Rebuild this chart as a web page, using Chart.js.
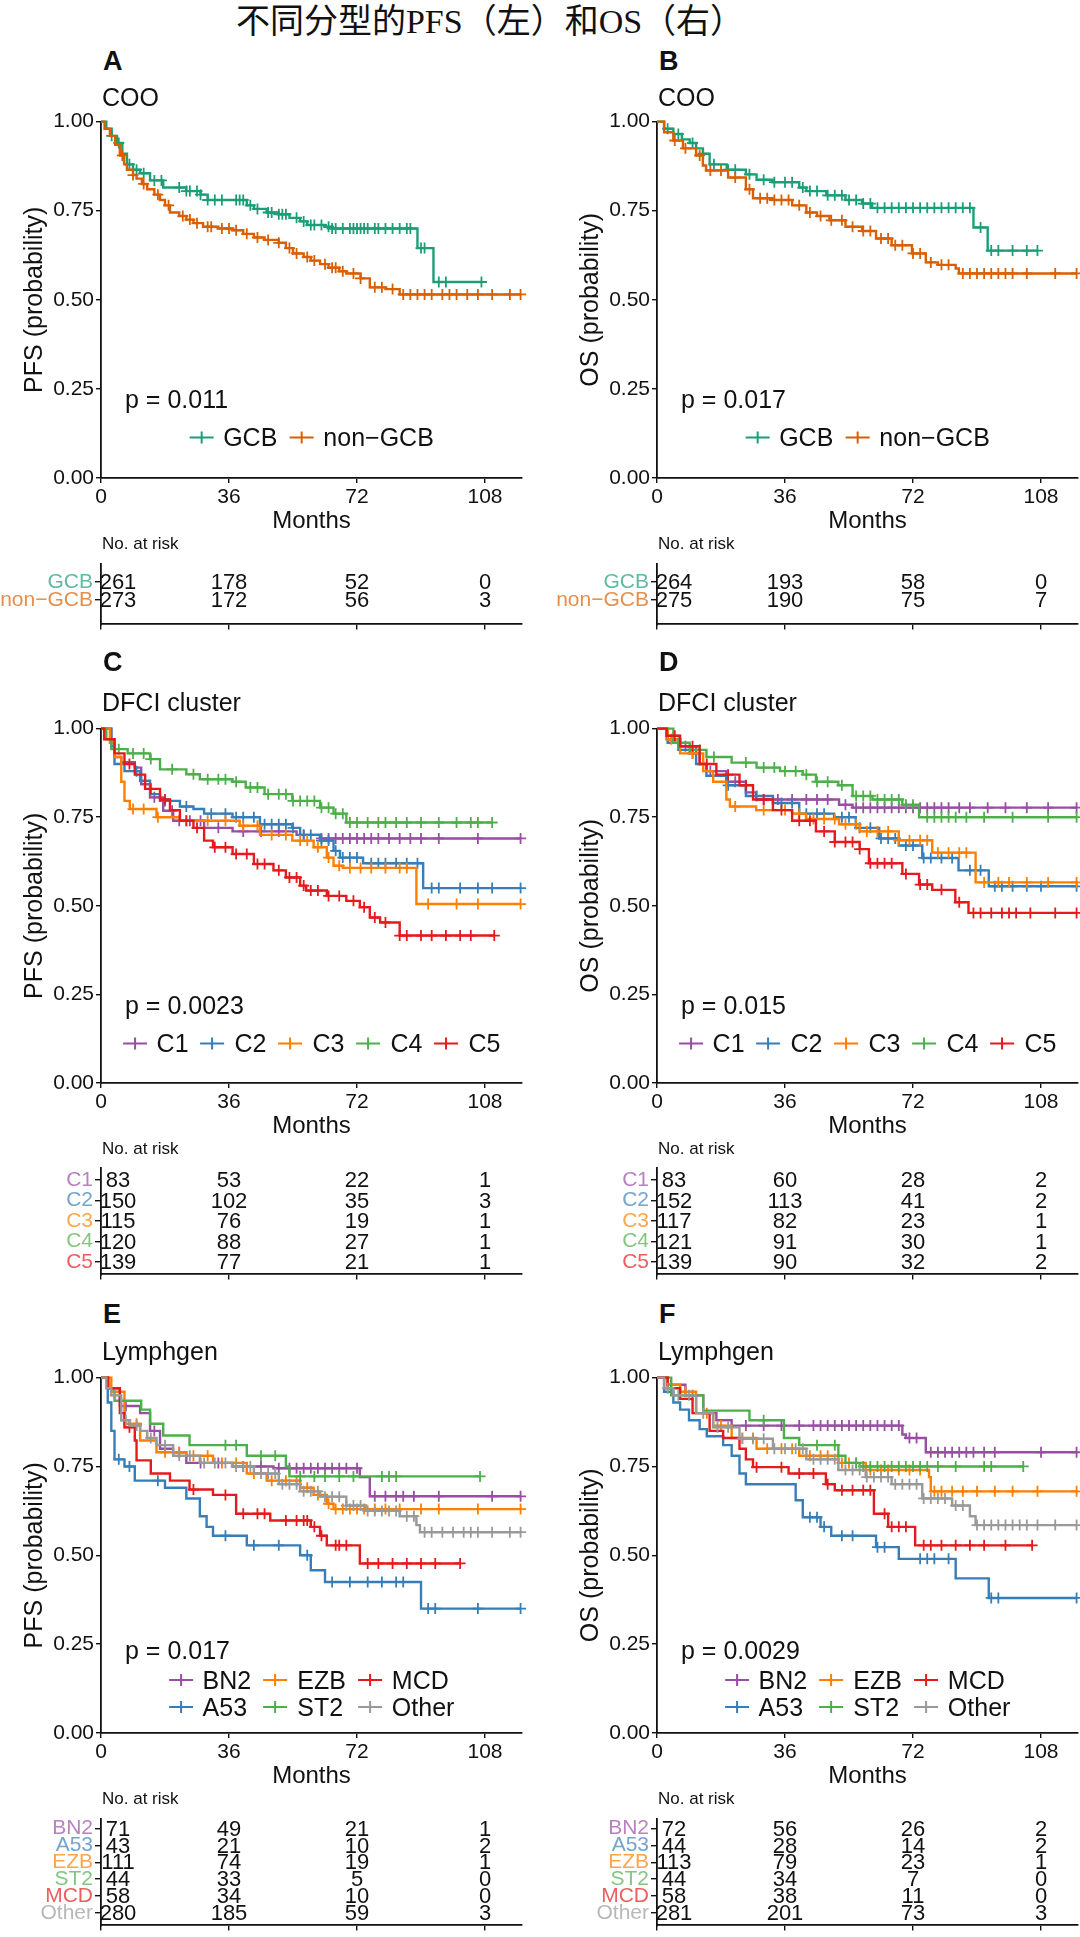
<!DOCTYPE html>
<html>
<head>
<meta charset="utf-8">
<script src="https://cdn.jsdelivr.net/npm/chart.js@4.4.1/dist/chart.umd.min.js"></script>
<style>
html,body{margin:0;padding:0;background:#fff}
#page{position:relative;width:1080px;height:1937px;overflow:hidden;font-family:"Liberation Sans",Arial,sans-serif;color:#111}
#page canvas{position:absolute}
.t{position:absolute;line-height:1;white-space:nowrap;transform:translateY(-50%)}
.title{font-family:"Liberation Serif","Noto Sans CJK SC",serif;font-size:34px;transform:translate(-50%,-50%)}
.letter{font-weight:bold;font-size:27px}
.sub{font-size:25px}
.pval{font-size:25px}
.head{font-size:17px}
.leg{position:absolute;display:grid;grid-auto-flow:column;column-gap:12px;align-items:center;font-size:25px;transform:translate(-50%,-50%)}
.leg .item{display:flex;align-items:center;white-space:nowrap;line-height:1}
.ico{position:relative;display:inline-block;width:24px;height:12px;margin-right:10px}
.ico::before{content:"";position:absolute;left:0;right:0;top:5px;height:2.4px;background:currentColor}
.ico::after{content:"";position:absolute;left:11px;width:2px;top:0;height:12px;background:currentColor}
</style>
</head>
<body>
<div id="page"></div>
<script>
// ---------- data ----------
const TIME_BREAKS = [0, 36, 72, 108];
const Y_TICKS = [0, 0.25, 0.5, 0.75, 1];
const X_MAX = 118.4;

const cooGroups = ['GCB', 'non\u2212GCB'];
const dfciGroups = ['C1', 'C2', 'C3', 'C4', 'C5'];
const lymphGroups = ['BN2', 'A53', 'EZB', 'ST2', 'MCD', 'Other'];

const cooColors = ['#1B9E77', '#D95F02'];
const dfciColors = ['#984EA3', '#377EB8', '#FF7F00', '#4DAF4A', '#E41A1C'];
const lymphColors = ['#984EA3', '#377EB8', '#FF7F00', '#4DAF4A', '#E41A1C', '#999999'];

const pValues = ['p = 0.011', 'p = 0.017', 'p = 0.0023', 'p = 0.015', 'p = 0.017', 'p = 0.0029'];

// A: PFS by COO  (steps: [month, survival]; cens: censoring months)
const pfsGCB = [[0,1],[1.5,0.98],[3,0.96],[4.5,0.94],[6,0.91],[7.3,0.88],[9,0.865],[11,0.855],[13.8,0.835],[17.5,0.815],[24,0.805],[28,0.795],[30,0.78],[41,0.765],[43,0.755],[46.6,0.745],[50,0.74],[53,0.73],[56,0.72],[58,0.71],[63,0.705],[65,0.70],[89,0.645],[93.5,0.55]];
const pfsGCBcens = [3,5,8,10,12,15,17,22,24,25,27,28,30,32,34,38,39,40,42,44,47,48,50,51,52,55,57,59,60,62,64,65,66,68,70,71,72,73,74,75,77,78,80,82,84,86,87,90,91,95,97,107];
const pfsNonGCB = [[0,1],[1,0.98],[2.5,0.96],[4,0.935],[5.3,0.905],[6.5,0.88],[7.3,0.865],[9,0.85],[10,0.84],[11.5,0.825],[13,0.81],[15,0.795],[16.6,0.78],[18,0.765],[19.4,0.745],[22,0.735],[24,0.725],[26,0.715],[28.7,0.705],[33,0.70],[37,0.695],[40,0.685],[43,0.675],[46,0.668],[50,0.66],[52,0.645],[54,0.63],[57,0.62],[59,0.61],[61.6,0.60],[64,0.59],[67,0.58],[69,0.574],[73,0.56],[75.6,0.535],[80,0.53],[84,0.515]];
const pfsNonGCBcens = [6,9,12,16,19,23,25,27,30,31,34,36,38,41,44,47,50,53,55,58,60,63,65,66,68,71,73,77,79,82,85,87,89,91,93,96,98,100,103,106,110,115,118];

// B: OS by COO
const osGCB = [[0,1],[2,0.98],[4.6,0.965],[7,0.95],[9.2,0.94],[11,0.925],[12.9,0.91],[14.8,0.88],[19.6,0.865],[25,0.852],[28,0.837],[32.5,0.83],[40,0.815],[42,0.805],[47.6,0.793],[53,0.78],[57.7,0.77],[60.5,0.758],[89,0.703],[93,0.638]];
const osGCBcens = [3,6,10,13,16,20,22,26,30,33,36,38,41,43,45,48,50,52,54,56,58,60,62,64,66,68,70,72,74,76,78,80,82,84,86,88,91,94,96,100,104,107];
const osNonGCB = [[0,1],[2,0.97],[4.6,0.947],[7.3,0.925],[11,0.905],[12.9,0.877],[13.8,0.863],[20,0.843],[25,0.81],[27,0.785],[32.5,0.78],[38,0.765],[42,0.745],[45,0.735],[48.5,0.723],[53,0.705],[57.7,0.693],[61.6,0.672],[66,0.653],[71.7,0.63],[75.6,0.605],[79,0.598],[84,0.588],[84.9,0.574]];
const osNonGCBcens = [5,8,12,15,18,22,26,29,31,33,35,37,40,43,46,49,52,55,58,60,63,65,67,69,72,74,77,80,82,86,88,90,92,94,96,98,100,104,112,118];

// C: PFS by DFCI cluster
const pfsC1 = [[0,1],[2.9,0.97],[3.8,0.92],[5.7,0.905],[9.5,0.89],[11.3,0.843],[13.8,0.806],[17.5,0.768],[20.3,0.74],[29,0.72],[37,0.71],[55,0.70],[61.6,0.69]];
const pfsC1cens = [15,20,22,25,28,33,40,45,50,57,62,64,66,68,70,72,74,76,78,81,84,87,90,95,106,118];
const pfsC2 = [[0,1],[2.9,0.95],[3.8,0.90],[6.6,0.88],[11,0.853],[13.8,0.815],[16.6,0.796],[22.2,0.78],[26,0.773],[29,0.76],[37,0.75],[44.7,0.73],[53.8,0.72],[56,0.70],[61.6,0.684],[65.4,0.655],[67.2,0.636],[73.7,0.62],[90.6,0.55]];
const pfsC2cens = [10,18,24,31,35,38,40,43,46,48,50,52,54,57,59,62,64,66,68,70,72,76,78,80,83,86,89,93,95,101,106,110,118];
const pfsC3 = [[0,1],[2.5,0.96],[3.8,0.92],[5.7,0.85],[6.6,0.796],[8.1,0.773],[15.6,0.75],[22.2,0.74],[39,0.726],[44.7,0.70],[53.8,0.684],[59.8,0.665],[63.5,0.636],[65.4,0.613],[68,0.607],[88.7,0.505]];
const pfsC3cens = [9,12,16,24,30,35,40,44,48,52,56,58,61,64,67,70,73,76,80,84,86,92,100,106,118];
const pfsC4 = [[0,1],[1.5,0.97],[2.9,0.942],[7.5,0.93],[13.8,0.914],[16.6,0.885],[24,0.871],[27.8,0.857],[37,0.85],[40.7,0.834],[46,0.815],[53.8,0.796],[61.6,0.777],[65.4,0.76],[69,0.735]];
const pfsC4cens = [5,9,12,14,20,26,30,33,35,38,42,44,47,50,52,54,56,58,60,62,64,66,68,70,72,75,78,80,83,86,90,95,100,104,106,110];
const pfsC5 = [[0,1],[0.9,0.97],[3.8,0.93],[6.6,0.90],[9.5,0.87],[12.4,0.83],[16.6,0.80],[19.4,0.77],[22.2,0.74],[26,0.72],[29,0.684],[31.5,0.665],[37,0.646],[43,0.618],[48.5,0.60],[52,0.58],[56,0.557],[57.7,0.543],[63.5,0.528],[69,0.514],[72.8,0.496],[75.6,0.467],[78.5,0.453],[84,0.416]];
const pfsC5cens = [8,14,18,24,27,32,35,38,41,44,46,50,53,55,57,59,61,64,67,71,74,77,80,84,86,90,93,97,101,104,110.6];

// D: OS by DFCI cluster
const osC1 = [[0,1],[2.7,0.97],[6.5,0.95],[11,0.93],[12,0.90],[13.9,0.88],[19.5,0.85],[25,0.82],[27.9,0.80],[51.2,0.785],[55,0.777]];
const osC1cens = [8,15,22,30,34,38,42,45,48,53,56,58,60,62,64,66,68,70,72,74,76,78,80,82,85,88,93,98,104,110,118];
const osC2 = [[0,1],[3,0.96],[6,0.94],[9.2,0.93],[11,0.90],[13.9,0.867],[19.5,0.84],[25,0.81],[32.6,0.79],[40,0.76],[49.8,0.75],[55.9,0.72],[62.5,0.69],[68,0.67],[74.6,0.635],[84.8,0.60],[93.3,0.555]];
const osC2cens = [10,20,28,35,38,42,45,47,52,54,57,60,63,65,67,70,72,75,77,80,83,88,91,95,97,100,104,108,118];
const osC3 = [[0,1],[3,0.97],[6.5,0.93],[13,0.88],[15.8,0.85],[19.5,0.80],[20.5,0.78],[27.9,0.77],[38,0.76],[41.9,0.745],[51.2,0.73],[57,0.71],[68,0.685],[77.4,0.65],[89.6,0.566]];
const osC3cens = [4,10,22,30,36,40,44,47,50,53,56,59,62,65,68,71,74,76,79,82,85,87,92,96,99,104,110,118];
const osC4 = [[0,1],[4.6,0.96],[9.2,0.94],[13.9,0.92],[21,0.904],[28,0.89],[34.6,0.88],[41,0.87],[44.7,0.85],[51,0.84],[55,0.81],[60.6,0.80],[69,0.785],[73.7,0.75]];
const osC4cens = [6,12,16,25,30,33,36,39,42,45,48,52,56,58,60,62,64,66,68,70,72,76,78,80,82,84,87,92,100,110,118];
const osC5 = [[0,1],[2.7,0.98],[6.5,0.95],[12,0.90],[16.7,0.87],[23.2,0.84],[27,0.80],[32.6,0.77],[38,0.74],[44.7,0.71],[50,0.68],[57,0.66],[59.6,0.62],[69,0.59],[73.7,0.56],[77.4,0.545],[83.9,0.51],[87.6,0.48]];
const osC5cens = [5,10,14,20,25,30,35,40,43,47,50,53,55,57,60,62,64,66,70,74,76,80,85,89,91,94,97,99,101,105,112,118];

// E: PFS by Lymphgen
const pfsBN2 = [[0,1],[2,0.97],[5.3,0.92],[11,0.90],[13.8,0.85],[16.6,0.80],[20.3,0.79],[24,0.76],[37,0.75],[48.5,0.745],[72.8,0.72],[75.6,0.666]];
const pfsBN2cens = [7,15,22,28,33,40,45,50,53,55,57,59,61,63,65,67,69,72,77,80,83,85,88,95,110,118];
const pfsA53 = [[0,1],[1.9,0.93],[2.9,0.85],[3.8,0.77],[6.6,0.75],[9.5,0.71],[18,0.69],[24,0.66],[27.8,0.61],[29.7,0.58],[31.5,0.555],[41,0.528],[56,0.50],[59,0.458],[63,0.425],[90,0.35]];
const pfsA53cens = [5,8,16,35,43,50,58,65,70,75,79,83,85,92,94,106,118];
const pfsEZB = [[0,1],[2.9,0.96],[6.6,0.87],[11,0.823],[15.6,0.79],[24,0.78],[31.5,0.76],[41,0.73],[46.6,0.71],[56,0.69],[59.8,0.67],[63.5,0.645],[65.4,0.63]];
const pfsEZBcens = [10,18,22,26,30,34,38,43,48,52,55,58,61,64,66,68,70,72,74,77,80,84,90,95,106,118];
const pfsST2 = [[0,1],[2,0.97],[3.8,0.935],[11.3,0.91],[13.8,0.87],[17.5,0.837],[24.9,0.81],[41,0.78],[52,0.75],[53,0.722]];
const pfsST2cens = [35,38,45,49,56,60,63,67,71,79,81,83,106.6];
const pfsMCD = [[0,1],[2,0.97],[5.3,0.90],[6.6,0.86],[9.5,0.823],[10,0.767],[14,0.73],[19.4,0.71],[24.9,0.685],[31.5,0.67],[38,0.617],[47.6,0.598],[59,0.58],[61.6,0.555],[63.5,0.528],[72.8,0.477]];
const pfsMCDcens = [8,26,35,40,44,46,52,55,57,58,60,62,66,67,69,75,78,82,86,90,94,101];
const pfsOther = [[0,1],[1.5,0.97],[2.9,0.95],[5.7,0.88],[8,0.865],[11,0.85],[13,0.83],[15.6,0.81],[20.3,0.78],[27.8,0.76],[37,0.75],[43,0.73],[50,0.70],[56,0.68],[61.6,0.665],[69,0.64],[74.6,0.625],[84,0.61],[88.7,0.585],[89.7,0.565]];
const pfsOthercens = [4,7,10,14,18,22,25,29,32,35,38,40,42,45,47,49,51,53,55,57,59,61,63,65,67,69,71,73,75,77,79,81,83,86,88,91,93,96,99,102,104,106,110,115,118];

// F: OS by Lymphgen
const osBN2 = [[0,1],[3,0.98],[8,0.95],[13,0.90],[16.7,0.88],[21,0.865],[69,0.84],[70,0.83],[75.6,0.79]];
const osBN2cens = [10,25,30,35,40,44,46,48,50,52,54,56,58,60,62,64,66,68,71,73,77,79,81,83,85,87,89,92,95,108,118];
const osA53 = [[0,1],[2,0.96],[4.6,0.93],[6.5,0.91],[9,0.88],[12,0.855],[14,0.835],[18.6,0.81],[21,0.78],[23.2,0.73],[25,0.70],[39,0.655],[41,0.607],[46,0.58],[49,0.555],[61.6,0.523],[68,0.49],[84,0.435],[93.3,0.38]];
const osA53cens = [43,45,47,52,55,62,64,74,76,78,82,94,96,118];
const osEZB = [[0,1],[3,0.98],[6.5,0.96],[11,0.90],[15.8,0.865],[21,0.83],[28,0.80],[40,0.78],[51,0.76],[58.7,0.74],[76.5,0.72],[77,0.68]];
const osEZBcens = [8,14,18,24,27,31,35,38,43,46,48,52,54,56,60,63,65,68,71,74,78,80,83,86,90,95,100,107,118];
const osST2 = [[0,1],[4,0.95],[13,0.907],[26,0.88],[35.7,0.83],[40,0.81],[51,0.78],[53,0.76],[57,0.75]];
const osST2cens = [30,45,50,56,58,60,62,64,66,68,70,72,74,76,79,84,92,94,103];
const osMCD = [[0,1],[3,0.97],[6.5,0.94],[10,0.90],[14.8,0.85],[18.6,0.83],[23.2,0.80],[25,0.77],[27,0.748],[37,0.73],[47.5,0.70],[50,0.683],[61,0.617],[65,0.58],[72.6,0.528]];
const osMCDcens = [28,35,40,44,48,52,55,58,60,64,66,68,70,75,77,80,84,88,92,98,105.5];
const osOther = [[0,1],[2,0.97],[4.6,0.95],[11,0.90],[15.8,0.86],[23.2,0.828],[32.6,0.80],[42,0.77],[51,0.74],[58.7,0.72],[66,0.70],[74.6,0.66],[83,0.64],[88,0.61],[89.6,0.585]];
const osOthercens = [3,6,9,13,17,20,24,27,30,33,36,39,41,44,46,48,50,53,55,57,59,61,63,65,67,69,71,73,75,77,79,81,84,86,90,92,94,96,98,100,102,104,107,112,118];

// numbers at risk at 0, 36, 72, 108 months
const pfsCooRisk = [[261,178,52,0],[273,172,56,3]];
const osCooRisk = [[264,193,58,0],[275,190,75,7]];
const pfsDfciRisk = [[83,53,22,1],[150,102,35,3],[115,76,19,1],[120,88,27,1],[139,77,21,1]];
const osDfciRisk = [[83,60,28,2],[152,113,41,2],[117,82,23,1],[121,91,30,1],[139,90,32,2]];
const pfsLymphRisk = [[71,49,21,1],[43,21,10,2],[111,74,19,1],[44,33,5,0],[58,34,10,0],[280,185,59,3]];
const osLymphRisk = [[72,56,26,2],[44,28,14,2],[113,79,23,1],[44,34,7,0],[58,38,11,0],[281,201,73,3]];

// ---------- layout ----------
const colX = [101, 657];
const PLOT_W = 421;
const rowLayout = [
  {plotTop:121, plotBot:478, letterY:61, subY:96.5, pY:399, legY:437, legRows:1, headY:543, tabTop:563, tabBot:625, padT:1.05, padB:1.4},
  {plotTop:728, plotBot:1083, letterY:662, subY:702, pY:1005, legY:1043, legRows:1, headY:1148, tabTop:1167, tabBot:1275, padT:0.6, padB:0.6},
  {plotTop:1377, plotBot:1733, letterY:1314, subY:1351, pY:1650, legY:1693.5, legRows:2, headY:1798, tabTop:1818, tabBot:1926, padT:0.6, padB:0.75}
];

const panels = [
  {letter:'A', sub:'COO', yTitle:'PFS (probability)', col:0, row:0, groups:cooGroups, colors:cooColors,
   curves:[pfsGCB,pfsNonGCB], cens:[pfsGCBcens,pfsNonGCBcens], risk:pfsCooRisk, p:pValues[0]},
  {letter:'B', sub:'COO', yTitle:'OS (probability)', col:1, row:0, groups:cooGroups, colors:cooColors,
   curves:[osGCB,osNonGCB], cens:[osGCBcens,osNonGCBcens], risk:osCooRisk, p:pValues[1]},
  {letter:'C', sub:'DFCI cluster', yTitle:'PFS (probability)', col:0, row:1, groups:dfciGroups, colors:dfciColors,
   curves:[pfsC1,pfsC2,pfsC3,pfsC4,pfsC5], cens:[pfsC1cens,pfsC2cens,pfsC3cens,pfsC4cens,pfsC5cens], risk:pfsDfciRisk, p:pValues[2]},
  {letter:'D', sub:'DFCI cluster', yTitle:'OS (probability)', col:1, row:1, groups:dfciGroups, colors:dfciColors,
   curves:[osC1,osC2,osC3,osC4,osC5], cens:[osC1cens,osC2cens,osC3cens,osC4cens,osC5cens], risk:osDfciRisk, p:pValues[3]},
  {letter:'E', sub:'Lymphgen', yTitle:'PFS (probability)', col:0, row:2, groups:lymphGroups, colors:lymphColors,
   curves:[pfsBN2,pfsA53,pfsEZB,pfsST2,pfsMCD,pfsOther], cens:[pfsBN2cens,pfsA53cens,pfsEZBcens,pfsST2cens,pfsMCDcens,pfsOthercens], risk:pfsLymphRisk, p:pValues[4]},
  {letter:'F', sub:'Lymphgen', yTitle:'OS (probability)', col:1, row:2, groups:lymphGroups, colors:lymphColors,
   curves:[osBN2,osA53,osEZB,osST2,osMCD,osOther], cens:[osBN2cens,osA53cens,osEZBcens,osST2cens,osMCDcens,osOthercens], risk:osLymphRisk, p:pValues[5]}
];

Chart.defaults.font.family = '"Liberation Sans", Arial, sans-serif';
Chart.defaults.color = '#111';

const page = document.getElementById('page');

function addText(cls, txt, x, y){
  const d = document.createElement('div');
  d.className = 't ' + cls;
  d.textContent = txt;
  d.style.left = x + 'px';
  d.style.top = y + 'px';
  page.appendChild(d);
  return d;
}

function lighten(hex, k){
  const n = parseInt(hex.slice(1), 16);
  const r = (n >> 16) & 255, g = (n >> 8) & 255, b = n & 255;
  const m = c => Math.round(c + (255 - c) * k);
  return `rgb(${m(r)},${m(g)},${m(b)})`;
}

function survAt(steps, t){
  let s = steps[0][1];
  for (const [ti, si] of steps){ if (ti <= t) s = si; else break; }
  return s;
}

function makeCanvas(left, top, w, h){
  const cv = document.createElement('canvas');
  cv.width = w; cv.height = h;
  cv.style.left = left + 'px'; cv.style.top = top + 'px';
  cv.style.width = w + 'px'; cv.style.height = h + 'px';
  page.appendChild(cv);
  return cv;
}

const axisGrid = {drawOnChartArea:false, drawTicks:true, tickLength:5, color:'#111', lineWidth:1.4};
const axisBorder = {display:true, color:'#111', width:1.8};

function kmChart(p, L, x0){
  const padTop = 14, axW = 101, axH = 58, padR = 10;
  const cv = makeCanvas(x0 - axW, L.plotTop - padTop, axW + PLOT_W + padR, padTop + (L.plotBot - L.plotTop) + axH);
  const n = p.curves.length;
  const datasets = [];
  p.curves.forEach((steps, i) => {
    const cens = p.cens[i];
    const end = Math.max(steps[steps.length - 1][0], cens[cens.length - 1]);
    const pts = steps.map(([x, y]) => ({x, y}));
    pts.push({x:end, y:steps[steps.length - 1][1]});
    datasets.push({type:'line', data:pts, borderColor:p.colors[i], borderWidth:2.4, stepped:'before',
      pointRadius:0, fill:false, order:n - i, clip:4});
    datasets.push({type:'scatter', data:cens.map(t => ({x:t, y:survAt(steps, t)})), pointStyle:'cross',
      pointRadius:5.5, borderColor:p.colors[i], backgroundColor:p.colors[i], borderWidth:1.8, order:n - i, clip:8});
  });
  new Chart(cv, {
    type:'line',
    data:{datasets},
    options:{
      responsive:false, animation:false, devicePixelRatio:1,
      layout:{padding:{top:padTop, right:padR, left:0, bottom:0}},
      plugins:{legend:{display:false}, tooltip:{enabled:false}},
      scales:{
        x:{type:'linear', min:0, max:X_MAX,
          afterBuildTicks: s => { s.ticks = TIME_BREAKS.map(v => ({value:v})); },
          afterFit: s => { s.height = axH; },
          grid:axisGrid, border:axisBorder,
          ticks:{font:{size:21}, color:'#111', padding:2, maxRotation:0, autoSkip:false},
          title:{display:true, text:'Months', font:{size:24}, color:'#111', padding:{top:0, bottom:0}}},
        y:{type:'linear', min:0, max:1,
          afterBuildTicks: s => { s.ticks = Y_TICKS.map(v => ({value:v})); },
          afterFit: s => { s.width = axW; },
          grid:axisGrid, border:axisBorder,
          ticks:{font:{size:21}, color:'#111', padding:2, callback: v => v.toFixed(2)},
          title:{display:true, text:p.yTitle, font:{size:25}, color:'#111', padding:{top:20, bottom:0}}}
      }
    }
  });
}

function riskChart(p, L, x0){
  const padTop = 14, axW = 101, axH = 14, padR = 10;
  const cv = makeCanvas(x0 - axW, L.tabTop - padTop, axW + PLOT_W + padR, padTop + (L.tabBot - L.tabTop) + axH);
  const n = p.groups.length;
  const numbers = {
    id:'riskNumbers',
    afterDraw(chart){
      const {ctx, scales:{x, y}} = chart;
      ctx.save();
      ctx.font = '22px "Liberation Sans", Arial, sans-serif';
      ctx.fillStyle = '#111';
      ctx.textAlign = 'center';
      ctx.textBaseline = 'middle';
      p.risk.forEach((row, i) => {
        row.forEach((v, j) => {
          const px = x.getPixelForValue(TIME_BREAKS[j]) + (j === 0 ? 17 : 0);
          ctx.fillText(String(v), px, y.getPixelForValue(i + 1) + 1);
        });
      });
      ctx.restore();
    }
  };
  new Chart(cv, {
    type:'scatter',
    data:{datasets:[{data:[], pointRadius:0}]},
    options:{
      responsive:false, animation:false, devicePixelRatio:1,
      layout:{padding:{top:padTop, right:padR, left:0, bottom:0}},
      plugins:{legend:{display:false}, tooltip:{enabled:false}},
      scales:{
        x:{type:'linear', min:0, max:X_MAX,
          afterBuildTicks: s => { s.ticks = TIME_BREAKS.map(v => ({value:v})); },
          afterFit: s => { s.height = axH; },
          grid:{...axisGrid, tickLength:5}, border:axisBorder,
          ticks:{display:false}},
        y:{type:'linear', reverse:true, min:1 - L.padT, max:n + L.padB,
          afterBuildTicks: s => { s.ticks = p.groups.map((g, i) => ({value:i + 1})); },
          afterFit: s => { s.width = axW; },
          grid:{...axisGrid, tickLength:6}, border:axisBorder,
          ticks:{font:{size:21}, padding:2, autoSkip:false,
            color: c => lighten(p.colors[c.index % n], 0.3),
            callback: v => p.groups[Math.round(v) - 1]}}
      }
    },
    plugins:[numbers]
  });
}

function addLegend(p, x, y, rows){
  const g = document.createElement('div');
  g.className = 'leg';
  g.style.left = x + 'px';
  g.style.top = y + 'px';
  g.style.gridTemplateRows = `repeat(${rows}, 27px)`;
  p.groups.forEach((name, i) => {
    const it = document.createElement('span');
    it.className = 'item';
    const ic = document.createElement('span');
    ic.className = 'ico';
    ic.style.color = p.colors[i];
    it.appendChild(ic);
    it.appendChild(document.createTextNode(name));
    g.appendChild(it);
  });
  page.appendChild(g);
}

// title
addText('title', '不同分型的PFS（左）和OS（右）', 490, 22);

panels.forEach(p => {
  const L = rowLayout[p.row];
  const x0 = colX[p.col];
  kmChart(p, L, x0);
  riskChart(p, L, x0);
  addText('letter', p.letter, x0 + 2, L.letterY);
  addText('sub', p.sub, x0 + 1, L.subY);
  addText('pval', p.p, x0 + 24, L.pY);
  addLegend(p, x0 + PLOT_W / 2, L.legY, L.legRows);
  addText('head', 'No. at risk', x0 + 1, L.headY);
});
</script>
</body>
</html>
